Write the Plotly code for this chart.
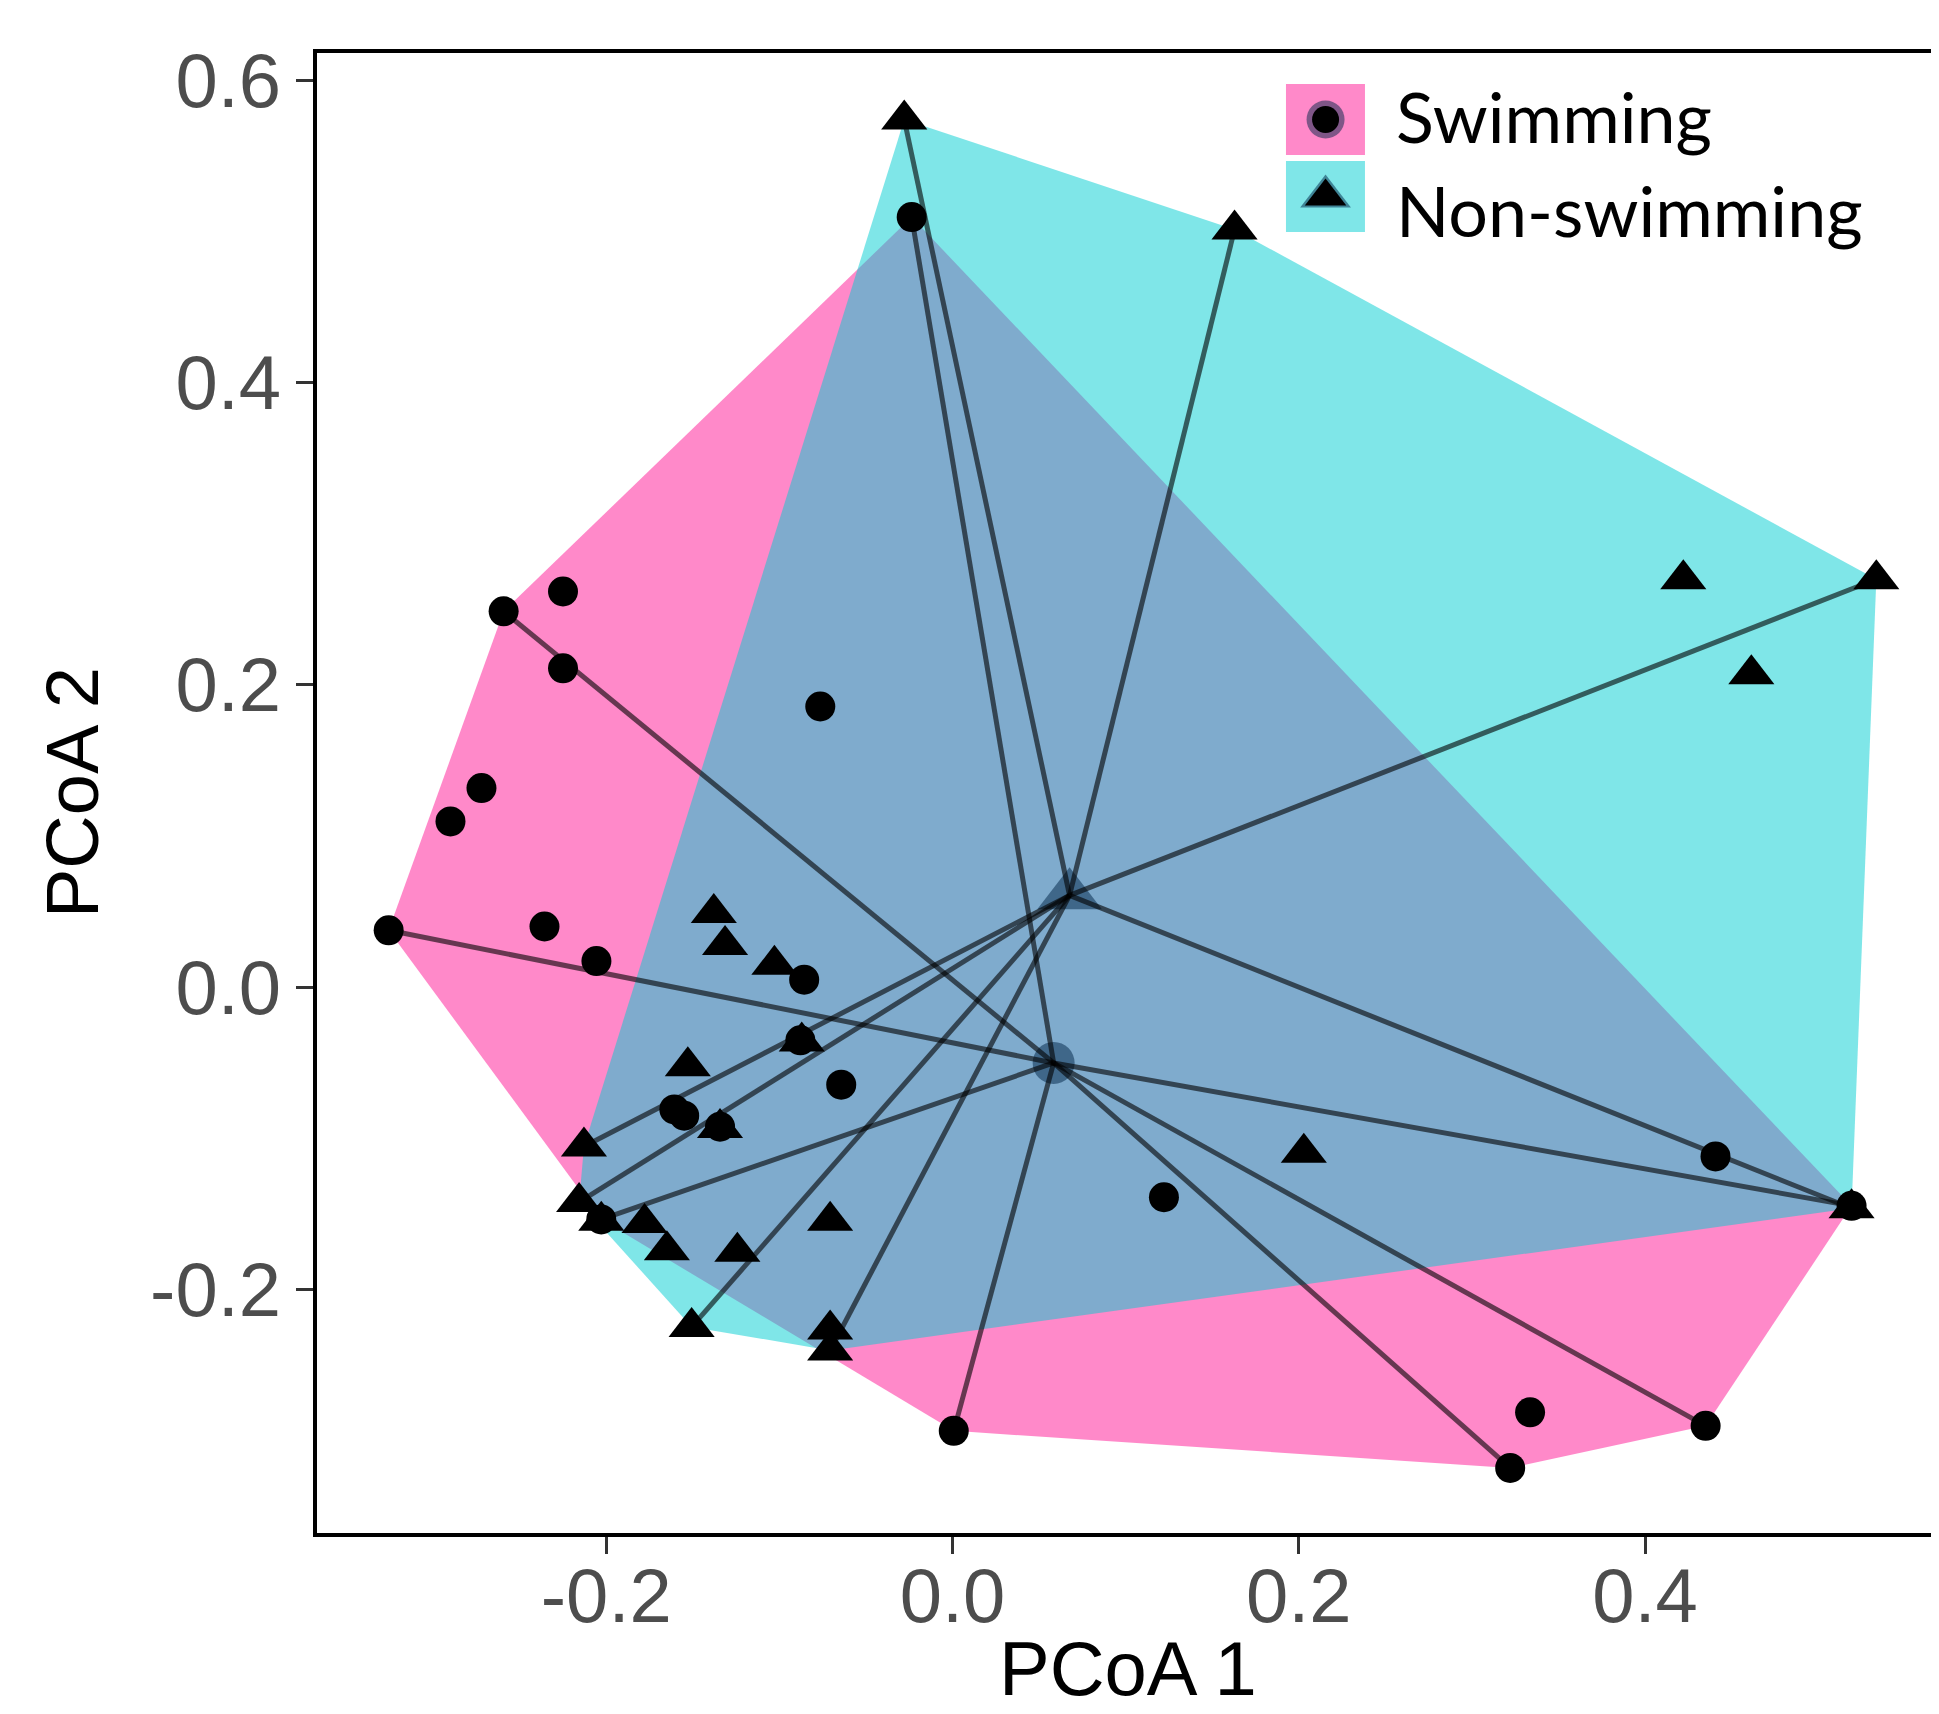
import plotly.graph_objects as go

# ---------------- data ----------------
swim_x = [-0.0236, -0.2250, -0.2593, -0.2250, -0.0764, -0.2721, -0.2900, -0.3257,
          -0.2357, -0.2057, -0.0857, -0.0643, -0.1607, -0.1550, 0.1221, 0.4407,
          0.0007, 0.3336, 0.3221, 0.4350, 0.5193, -0.2029, -0.0879, -0.1343]
swim_y = [0.5096, 0.2618, 0.2487, 0.2110, 0.1857, 0.1317, 0.1096, 0.0376,
          0.0401, 0.0172, 0.0049, -0.0646, -0.0810, -0.0851, -0.1391, -0.1121,
          -0.2937, -0.2814, -0.3182, -0.2904, -0.1448, -0.1538, -0.0352, -0.0924]

non_x = [-0.0279, 0.1629, 0.4221, 0.5336, 0.4614, -0.1379, -0.1314, -0.1029,
         -0.0871, -0.1529, -0.1343, -0.2129, 0.2029, -0.2157, -0.2029, -0.1779,
         -0.1650, -0.1243, -0.0707, -0.1507, -0.0707, -0.0707, 0.5193]
non_y = [0.5742, 0.5014, 0.2699, 0.2699, 0.2070, 0.0491, 0.0278, 0.0147,
         -0.0360, -0.0524, -0.0933, -0.1055, -0.1096, -0.1423, -0.1546, -0.1562,
         -0.1742, -0.1751, -0.1546, -0.2249, -0.2266, -0.2405, -0.1464]

centroid_swim = [0.0584, -0.0502]
centroid_non = [0.0676, 0.0607]

group_names = ["Swimming", "Non-swimming"]

x_tickvals = [-0.2, 0.0, 0.2, 0.4]
x_ticktext = ["-0.2", "0.0", "0.2", "0.4"]
y_tickvals = [-0.2, 0.0, 0.2, 0.4, 0.6]
y_ticktext = ["-0.2", "0.0", "0.2", "0.4", "0.6"]

# ---------------- styles ----------------
PINK = "rgba(255,20,147,0.5)"
CYAN = "rgba(0,206,209,0.5)"
CENT = "rgba(0,35,70,0.5)"
SPIDER = "rgba(0,0,0,0.6)"


def convex_hull(xs, ys):
    pts = sorted(set(zip(xs, ys)))
    if len(pts) <= 2:
        return pts

    def cross(o, a, b):
        return (a[0] - o[0]) * (b[1] - o[1]) - (a[1] - o[1]) * (b[0] - o[0])

    lower, upper = [], []
    for p in pts:
        while len(lower) >= 2 and cross(lower[-2], lower[-1], p) <= 0:
            lower.pop()
        lower.append(p)
    for p in reversed(pts):
        while len(upper) >= 2 and cross(upper[-2], upper[-1], p) <= 0:
            upper.pop()
        upper.append(p)
    return lower[:-1] + upper[:-1]


fig = go.Figure()

groups = [
    (swim_x, swim_y, centroid_swim, PINK, "circle"),
    (non_x, non_y, centroid_non, CYAN, "triangle-up"),
]

# hulls
for xs, ys, c, col, sym in groups:
    hull = convex_hull(xs, ys)
    hx = [p[0] for p in hull] + [hull[0][0]]
    hy = [p[1] for p in hull] + [hull[0][1]]
    fig.add_trace(go.Scatter(x=hx, y=hy, mode="lines", fill="toself",
                             fillcolor=col, line=dict(width=0),
                             hoverinfo="skip", showlegend=False))

# centroid markers
fig.add_trace(go.Scatter(x=[centroid_swim[0]], y=[centroid_swim[1]], mode="markers",
                         marker=dict(symbol="circle", size=42, color=CENT, line=dict(width=0)),
                         showlegend=False, hoverinfo="skip"))
fig.add_trace(go.Scatter(x=[centroid_non[0]], y=[centroid_non[1]], mode="markers",
                         marker=dict(symbol="triangle-up", size=56, color=CENT, line=dict(width=0)),
                         showlegend=False, hoverinfo="skip"))

# spider lines: centroid to hull vertices
for xs, ys, c, col, sym in groups:
    hull = convex_hull(xs, ys)
    lx, ly = [], []
    for p in hull:
        lx += [c[0], p[0], None]
        ly += [c[1], p[1], None]
    fig.add_trace(go.Scatter(x=lx, y=ly, mode="lines",
                             line=dict(color=SPIDER, width=5),
                             hoverinfo="skip", showlegend=False))

# points
fig.add_trace(go.Scatter(x=swim_x, y=swim_y, mode="markers", name=group_names[0],
                         marker=dict(symbol="circle", size=30, color="black", line=dict(width=0)),
                         showlegend=False))
fig.add_trace(go.Scatter(x=non_x, y=non_y, mode="markers", name=group_names[1],
                         marker=dict(symbol="triangle-up", size=40, color="black", line=dict(width=0)),
                         showlegend=False))

# ---------------- legend (drawn manually) ----------------
kx = 0.6218
fig.add_trace(go.Scatter(x=[kx], y=[0.9551], xaxis="x2", yaxis="y2", mode="markers",
                         marker=dict(symbol="circle", size=38, color=CENT, line=dict(width=0)),
                         showlegend=False, hoverinfo="skip"))
fig.add_trace(go.Scatter(x=[kx], y=[0.9551], xaxis="x2", yaxis="y2", mode="markers",
                         marker=dict(symbol="circle", size=27, color="black", line=dict(width=0)),
                         showlegend=False, hoverinfo="skip"))
fig.add_trace(go.Scatter(x=[kx], y=[0.9030], xaxis="x2", yaxis="y2", mode="markers",
                         marker=dict(symbol="triangle-up", size=44, color=CENT, line=dict(width=0)),
                         showlegend=False, hoverinfo="skip"))
fig.add_trace(go.Scatter(x=[kx], y=[0.9030], xaxis="x2", yaxis="y2", mode="markers",
                         marker=dict(symbol="triangle-up", size=36, color="black", line=dict(width=0)),
                         showlegend=False, hoverinfo="skip"))

shapes = [
    dict(type="rect", xref="paper", yref="paper", x0=0.5974, x1=0.6461, y0=0.9311, y1=0.9791,
         fillcolor=PINK, line=dict(width=0), layer="below"),
    dict(type="rect", xref="paper", yref="paper", x0=0.5974, x1=0.6461, y0=0.8791, y1=0.9270,
         fillcolor=CYAN, line=dict(width=0), layer="below"),
]

axis_font = dict(family="Liberation Sans, Arial, sans-serif", size=76, color="#4D4D4D")

annotations = [
    dict(text=group_names[0], xref="paper", yref="paper", x=0.6640, y=0.9574,
         xanchor="left", yanchor="middle", showarrow=False,
         font=dict(family="Lato", size=70, color="black")),
    dict(text=group_names[1], xref="paper", yref="paper", x=0.6640, y=0.8936,
         xanchor="left", yanchor="middle", showarrow=False,
         font=dict(family="Lato", size=70, color="black")),
    # y-axis title
    dict(text="PCoA 2", xref="paper", yref="paper", x=-0.151, y=0.5,
         xanchor="center", yanchor="middle", textangle=-90, showarrow=False,
         font=dict(family="Liberation Sans, Arial, sans-serif", size=74, color="black")),
    # x-axis title
    dict(text="PCoA 1", xref="paper", yref="paper", x=0.5, y=-0.1216,
         xanchor="center", yanchor="bottom", showarrow=False,
         font=dict(family="Liberation Sans, Arial, sans-serif", size=76, color="black")),
]

fig.update_layout(
    width=1939, height=1714,
    margin=dict(l=309, r=8, t=45, b=189),
    paper_bgcolor="white", plot_bgcolor="white",
    showlegend=False,
    shapes=shapes, annotations=annotations,
    xaxis=dict(range=[-0.3671, 0.5698], tickvals=x_tickvals, ticktext=x_ticktext,
               ticks="outside", ticklen=17, tickwidth=3, tickcolor="#333333",
               showline=True, linecolor="black", linewidth=3.5, mirror=True,
               showgrid=False, zeroline=False, tickfont=axis_font, ticklabelstandoff=-23,
               automargin=False),
    yaxis=dict(range=[-0.3613, 0.6182], tickvals=y_tickvals, ticktext=y_ticktext,
               ticks="outside", ticklen=17, tickwidth=3, tickcolor="#333333",
               showline=True, linecolor="black", linewidth=3.5, mirror=False,
               showgrid=False, zeroline=False, tickfont=axis_font, automargin=False),
    xaxis2=dict(overlaying="x", range=[0, 1], visible=False, fixedrange=True),
    yaxis2=dict(overlaying="y", range=[0, 1], visible=False, fixedrange=True),
)

fig.write_html("out.html")
